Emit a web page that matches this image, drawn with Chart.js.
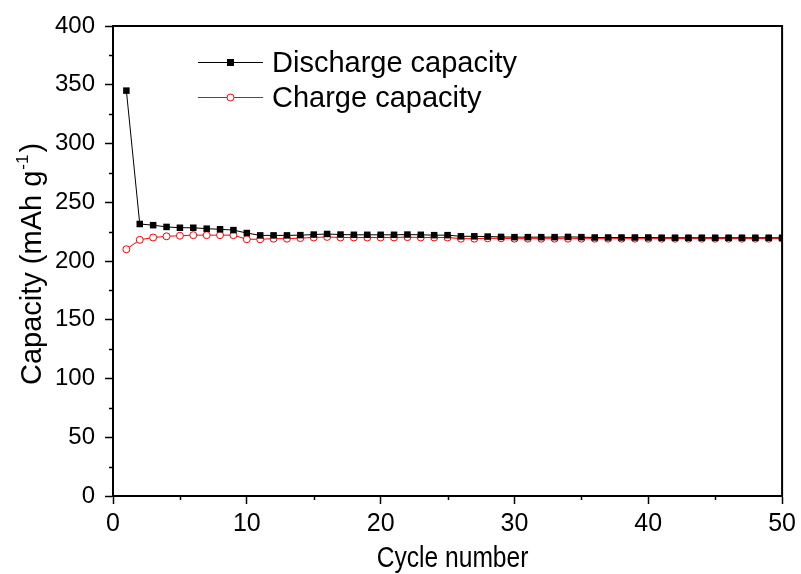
<!DOCTYPE html>
<html><head><meta charset="utf-8">
<script src="https://cdn.jsdelivr.net/npm/chart.js@4/dist/chart.umd.min.js"></script>
<style>html,body{margin:0;padding:0;background:#fff}#wrap{width:801px;height:574px}</style>
</head><body><div id="wrap"><canvas id="c" width="801" height="574"></canvas></div>
<script>
const cycles = [1,2,3,4,5,6,7,8,9,10,11,12,13,14,15,16,17,18,19,20,21,22,23,24,25,26,27,28,29,30,31,32,33,34,35,36,37,38,39,40,41,42,43,44,45,46,47,48,49,50];
const discharge = [345,231.5,230.5,229,228.3,228.3,227.5,227,226.3,223.8,221.8,221.8,221.8,222,222.5,223,222.5,222.3,222.3,222.3,222.3,222.5,222.3,222,222,221,221,220.8,220.5,220.3,220.3,220.3,220.3,220.5,220.3,220,220,220,220,220,219.8,219.8,219.8,219.8,219.8,219.8,219.8,219.8,219.8,219.8];
const charge = [210,218,220,221,221.5,222,222,222,222,218.5,218.5,219,219,219.5,220,220.5,220,220,220,220,220,220.3,220,220,220,219,219,219.3,219.3,219,219,219,219,219,219,219,219,219,219,219,219,219,219,219,219,219,219,219,219,219];
const seriesNames = ["Discharge capacity","Charge capacity"];
const xTitle = "Cycle number";
const yTitleMain = "Capacity (mAh g";
const yTitleSup = "-1";
const yTitleEnd = ")";

const FONT = "'Liberation Sans', Arial, sans-serif";

const decor = {
  id: 'decor',
  afterDraw(chart) {
    const ctx = chart.ctx, a = chart.chartArea;
    const xs = chart.scales.x, ys = chart.scales.y;
    ctx.save();
    // frame
    ctx.strokeStyle = '#000'; ctx.lineWidth = 2;
    ctx.strokeRect(a.left, a.top, a.right - a.left, a.bottom - a.top);
    // minor ticks
    ctx.lineWidth = 1.5;
    ctx.beginPath();
    [5,15,25,35,45].forEach(v => { const p = Math.round(xs.getPixelForValue(v)) + 0.5; ctx.moveTo(p, a.bottom); ctx.lineTo(p, a.bottom + 4); });
    [25,75,125,175,225,275,325,375].forEach(v => { const p = Math.round(ys.getPixelForValue(v)) + 0.5; ctx.moveTo(a.left, p); ctx.lineTo(a.left - 4, p); });
    ctx.stroke();
    ctx.restore();
    // x title (slightly condensed)
    ctx.save();
    ctx.fillStyle = '#000';
    ctx.translate((a.left + a.right) / 2 + 5, 567);
    ctx.scale(0.82, 1);
    ctx.font = '30px ' + FONT; ctx.textAlign = 'center'; ctx.textBaseline = 'alphabetic';
    ctx.fillText(xTitle, 0, 0);
    ctx.restore();
    // y title with superscript
    ctx.save();
    ctx.fillStyle = '#000';
    ctx.translate(41, (a.top + a.bottom) / 2 + 3);
    ctx.rotate(-Math.PI / 2);
    const big = '29px ' + FONT, small = '17px ' + FONT;
    ctx.font = big;
    const w1 = ctx.measureText(yTitleMain).width;
    ctx.font = small;
    const w2 = ctx.measureText(yTitleSup).width;
    ctx.font = big;
    const w3 = ctx.measureText(yTitleEnd).width;
    const tot = w1 + w2 + w3 + 3;
    let x0 = -tot / 2;
    ctx.textBaseline = 'alphabetic'; ctx.textAlign = 'left';
    ctx.fillText(yTitleMain, x0, 0);
    ctx.font = small;
    ctx.fillText(yTitleSup, x0 + w1 + 1, -13);
    ctx.font = big;
    ctx.fillText(yTitleEnd, x0 + w1 + w2 + 3, 0);
    ctx.restore();
    // legend
    ctx.save();
    const items = [
      {y: 62, color: '#000', style: 'rect'},
      {y: 97, color: '#ff0000', style: 'circle'}
    ];
    items.forEach((it, i) => {
      ctx.strokeStyle = it.color; ctx.lineWidth = 1;
      ctx.beginPath(); ctx.moveTo(198, it.y + 0.5); ctx.lineTo(263, it.y + 0.5); ctx.stroke();
      if (it.style === 'rect') { ctx.fillStyle = '#000'; ctx.fillRect(227, it.y - 3, 7, 7); }
      else { ctx.fillStyle = '#fff'; ctx.beginPath(); ctx.arc(230.5, it.y + 0.5, 3.5, 0, Math.PI * 2); ctx.fill(); ctx.stroke(); }
      ctx.fillStyle = '#000'; ctx.font = '29px ' + FONT; ctx.textBaseline = 'alphabetic'; ctx.textAlign = 'left';
      ctx.fillText(seriesNames[i], 272, it.y + 10);
    });
    ctx.restore();
  }
};

new Chart(document.getElementById('c'), {
  type: 'line',
  data: {
    datasets: [
      { label: seriesNames[0], data: cycles.map((c, i) => ({x: c, y: discharge[i]})),
        borderColor: '#000', backgroundColor: '#000', borderWidth: 1,
        pointStyle: 'rect', pointRadius: 4.6, pointBorderWidth: 0, pointBackgroundColor: '#000' },
      { label: seriesNames[1], data: cycles.map((c, i) => ({x: c, y: charge[i]})),
        borderColor: '#ff0000', backgroundColor: '#fff', borderWidth: 1,
        pointStyle: 'circle', pointRadius: 3.5, pointBorderWidth: 1, pointBackgroundColor: '#fff', pointBorderColor: '#ff0000' }
    ]
  },
  plugins: [decor],
  options: {
    responsive: false, animation: false, devicePixelRatio: 1,
    layout: { padding: { top: 26, right: 18, left: 0, bottom: 0 } },
    plugins: { legend: { display: false }, tooltip: { enabled: false } },
    scales: {
      x: { type: 'linear', min: 0, max: 50,
        ticks: { stepSize: 10, color: '#000', font: { family: FONT, size: 25 }, padding: 5, maxRotation: 0 },
        grid: { drawOnChartArea: false, drawTicks: true, tickLength: 8, tickColor: '#000', tickWidth: 1.5 },
        border: { display: true, color: '#000', width: 2 },
        title: { display: false },
        afterFit(s) { s.height = 78; } },
      y: { min: 0, max: 400,
        ticks: { stepSize: 50, color: '#000', font: { family: FONT, size: 24 }, padding: 10 },
        grid: { drawOnChartArea: false, drawTicks: true, tickLength: 8, tickColor: '#000', tickWidth: 1.5 },
        border: { display: true, color: '#000', width: 2 },
        afterFit(s) { s.width = 113; } }
    }
  }
});
</script></body></html>
